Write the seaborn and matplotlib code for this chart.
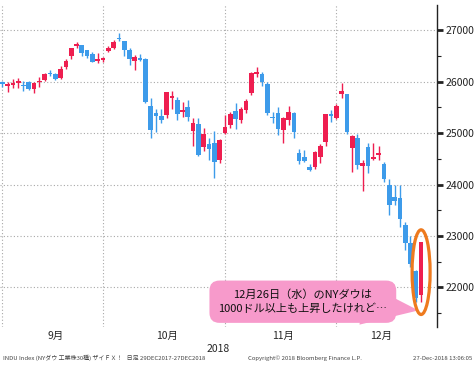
import numpy as np
import pandas as pd
import seaborn as sns
import matplotlib.pyplot as plt
from matplotlib.patches import Ellipse
from matplotlib.ticker import MultipleLocator

# 日足データ (NYダウ, 2018/8/31 - 2018/12/26)
dates = [
    '08-31',
    '09-04', '09-05', '09-06', '09-07', '09-10', '09-11', '09-12', '09-13', '09-14',
    '09-17', '09-18', '09-19', '09-20', '09-21', '09-24', '09-25', '09-26', '09-27', '09-28',
    '10-01', '10-02', '10-03', '10-04', '10-05', '10-08', '10-09', '10-10', '10-11', '10-12',
    '10-15', '10-16', '10-17', '10-18', '10-19', '10-22', '10-23', '10-24', '10-25', '10-26',
    '10-29', '10-30', '10-31',
    '11-01', '11-02', '11-05', '11-06', '11-07', '11-08', '11-09', '11-12', '11-13', '11-14',
    '11-15', '11-16', '11-19', '11-20', '11-21', '11-23', '11-26', '11-27', '11-28', '11-29',
    '11-30',
    '12-03', '12-04', '12-06', '12-07', '12-10', '12-11', '12-12', '12-13', '12-14', '12-17',
    '12-18', '12-19', '12-20', '12-21', '12-24', '12-26',
]
opens = [
    25985,
    25916, 25939, 25984, 25925, 25990, 25850, 25992, 26040, 26160,
    26152, 26070, 26290, 26500, 26700, 26715, 26612, 26534, 26405, 26418,
    26600, 26650, 26843, 26786, 26625, 26400, 26463, 26437, 25525, 25400,
    25336, 25350, 25690, 25640, 25420, 25500, 25050, 25180, 24740, 24780,
    24810, 24475, 25010,
    25156, 25440, 25250, 25446, 25790, 26150, 26160, 25964, 25310, 25395,
    25060, 25252, 25395, 24617, 24527, 24333, 24345, 24530, 24820, 25350,
    25304,
    25760, 25757, 24720, 24915, 24370, 24735, 24495, 24580, 24410, 23990,
    23760, 23730, 23210, 22860, 22317, 21857,
]
highs = [
    26020,
    25998, 26050, 26080, 26013, 26010, 25999, 26100, 26180, 26238,
    26175, 26305, 26435, 26657, 26769, 26720, 26620, 26570, 26560, 26490,
    26700, 26820, 26951, 26800, 26650, 26520, 26550, 26460, 25690, 25467,
    25480, 25810, 25822, 25700, 25610, 25640, 25305, 25305, 25100, 24915,
    25040, 24890, 25350,
    25420, 25580, 25500, 25660, 26200, 26290, 26200, 26000, 25415, 25500,
    25310, 25525, 25420, 24700, 24680, 24400, 24660, 24780, 25380, 25460,
    25560,
    25980, 25760, 24960, 24990, 24480, 24800, 24812, 24750, 24440, 24100,
    23990, 24000, 23280, 23000, 22340, 22880,
]
lows = [
    25900,
    25803, 25878, 25882, 25822, 25837, 25781, 25907, 26020, 26122,
    26036, 26060, 26246, 26436, 26650, 26500, 26470, 26380, 26370, 26380,
    26580, 26640, 26793, 26500, 26320, 26236, 26410, 25590, 24900, 25014,
    25200, 25300, 25480, 25250, 25320, 25240, 24750, 24560, 24650, 24480,
    24120, 24420, 24990,
    25100, 25090, 25200, 25400, 25750, 26100, 25920, 25350, 25190, 24960,
    24800, 25155, 24900, 24410, 24440, 24270, 24300, 24420, 24760, 25220,
    25280,
    25690, 24980, 24242, 24300, 23881, 24230, 24480, 24470, 24050, 23400,
    23600, 23180, 22720, 22400, 21713, 21712,
]
closes = [
    25965,
    25952, 25975, 25996, 25917, 25857, 25971, 25998, 26146, 26155,
    26062, 26247, 26406, 26657, 26744, 26562, 26492, 26385, 26440, 26458,
    26651, 26774, 26828, 26627, 26447, 26487, 26431, 25599, 25053, 25340,
    25251, 25798, 25707, 25379, 25444, 25317, 25191, 24583, 24985, 24688,
    24443, 24875, 25116,
    25381, 25271, 25462, 25635, 26180, 26191, 25989, 25387, 25286, 25080,
    25289, 25413, 25017, 24466, 24465, 24286, 24640, 24749, 25366, 25339,
    25538,
    25826, 25027, 24948, 24389, 24423, 24370, 24527, 24597, 24100, 23593,
    23676, 23324, 22860, 22445, 21792, 22878,
]
month_labels = ['9月', '10月', '11月', '12月']
year_label = '2018'
y_ticks = [22000, 23000, 24000, 25000, 26000, 27000]
callout_text = '12月26日（水）のNYダウは\n1000ドル以上も上昇したけれど…'
footer_left = 'INDU Index (NYダウ 工業株30種) ザイＦＸ！   日足 29DEC2017-27DEC2018'
footer_mid = 'Copyright© 2018 Bloomberg Finance L.P.'
footer_right = '27-Dec-2018 13:06:05'

RED = '#EE1E50'
BLUE = '#3D9BEA'
PINK = '#F79ACB'
ORANGE = '#EE7A1E'
GRID = '#A8A8A8'

sns.set_theme(style="white")
plt.rcParams['font.family'] = ['Noto Sans CJK JP', 'DejaVu Sans']

df = pd.DataFrame({
    'date': pd.to_datetime(['2018-' + d for d in dates]),
    'open': opens, 'high': highs, 'low': lows, 'close': closes,
})
df['x'] = np.arange(len(df))
df['up'] = df['close'] >= df['open']
colors = np.where(df['up'], RED, BLUE)

fig, ax = plt.subplots(figsize=(4.75, 3.68), dpi=100)
fig.subplots_adjust(left=0.0, right=0.92, bottom=0.111, top=0.986)

# ローソク足
ax.vlines(df['x'], df['low'], df['high'], colors=colors, lw=1.0, zorder=2)
body_lo = np.minimum(df['open'], df['close'])
body_h = np.maximum((df['close'] - df['open']).abs(), 25)
ax.bar(df['x'], body_h, bottom=body_lo, width=0.88, color=colors,
       linewidth=0, zorder=3)

ax.set_xlim(-0.43, 82.0)
ax.set_ylim(21226, 27491)

# 月ラベルと月末のグリッド
month = df['date'].dt.month
centers = df.groupby(month)['x'].mean().loc[[9, 10, 11, 12]]
month_ends = df.groupby(month)['x'].max().loc[[8, 9, 10, 11]]
ax.set_xticks(centers.values)
ax.set_xticklabels(month_labels, fontsize=7.5)
ax.set_xticks(month_ends.values, minor=True)
ax.tick_params(axis='x', which='both', length=0, pad=3)
ax.set_xlabel(year_label, fontsize=7.5, labelpad=2)

ax.yaxis.tick_right()
ax.set_yticks(y_ticks)
ax.set_yticklabels([str(v) for v in y_ticks], fontsize=7.5)
ax.yaxis.set_minor_locator(MultipleLocator(500))
ax.tick_params(axis='y', which='major', direction='out', length=4, width=2,
               color='#222222', pad=2, labelcolor='#222222')
ax.tick_params(axis='y', which='minor', direction='out', length=3, width=0.8,
               color='#222222')

ax.grid(False)
ax.grid(axis='y', which='major', color=GRID, lw=0.8, ls=(0, (1, 2)))
ax.grid(axis='x', which='minor', color=GRID, lw=0.8, ls=(0, (1, 2)))
ax.set_axisbelow(True)

for side in ['top', 'left', 'bottom']:
    ax.spines[side].set_visible(False)
ax.spines['right'].set_color('#222222')
ax.spines['right'].set_linewidth(1.0)

# 最終日の丸囲みと吹き出し
last = df.iloc[-1]
ax.add_patch(Ellipse((last['x'], (last['low'] + last['high']) / 2),
                     width=3.4, height=(last['high'] - last['low']) + 480,
                     fill=False, ec=ORANGE, lw=2.3, zorder=6))

ax.annotate(callout_text,
            xy=(last['x'] - 0.5, last['low'] - 160), xycoords='data',
            xytext=(0.693, 0.079), textcoords='axes fraction',
            ha='center', va='center', fontsize=8, linespacing=1.4,
            color='#111111', zorder=5,
            bbox=dict(boxstyle='round,pad=0.8,rounding_size=0.9',
                      fc=PINK, ec='none'),
            arrowprops=dict(arrowstyle='wedge,tail_width=3.8,shrink_factor=0.5',
                            fc=PINK, ec='none', relpos=(0.85, 0.42),
                            patchA=None, shrinkA=0, shrinkB=0))

# フッター
fig.text(0.006, 0.027, footer_left, fontsize=4.3, color='#444444', va='center')
fig.text(0.522, 0.027, footer_mid, fontsize=4.3, color='#444444', va='center')
fig.text(0.994, 0.027, footer_right, fontsize=4.3, color='#444444',
         va='center', ha='right')

fig.savefig('out.png', dpi=100)
plt.close(fig)
